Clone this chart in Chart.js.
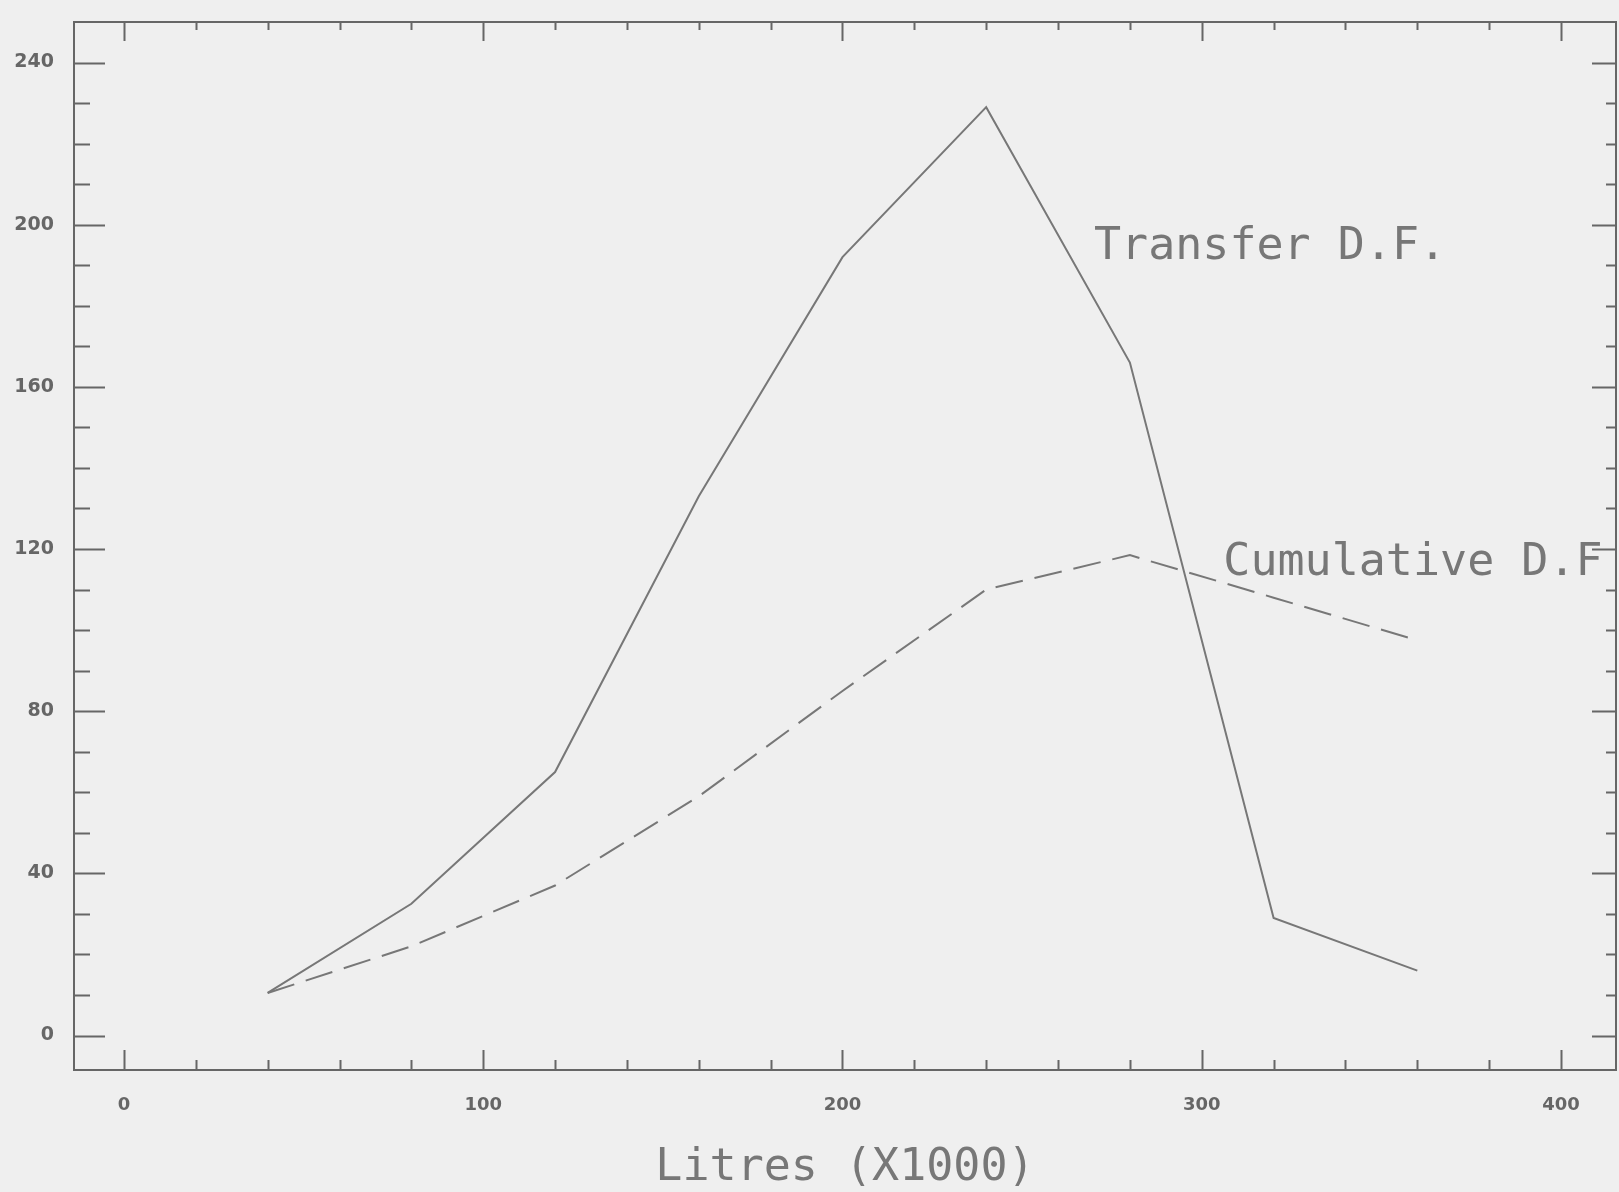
<!DOCTYPE html>
<html>
<head>
<meta charset="utf-8">
<script src="https://cdn.jsdelivr.net/npm/chart.js@4.4.1/dist/chart.umd.min.js"></script>
<style>
  html, body { margin: 0; padding: 0; background: #efefef; }
  #wrap { width: 1619px; height: 1192px; }
</style>
</head>
<body>
<div id="wrap"><canvas id="myChart" width="1619" height="1192"></canvas></div>
<script>
// data (x = litres x1000)
var litres       = [40, 80, 120, 160, 200, 240, 280, 320, 360];
var transferDF   = [10.5, 32.5, 65, 133, 192, 229, 166, 29, 16];
var cumulativeDF = [10.5, 22, 37, 59, 85, 110, 118.5, 108, 97.5];

var xTickLabels = [0, 100, 200, 300, 400];
var yTickLabels = [0, 40, 80, 120, 160, 200, 240];

// curve names written on the plot, anchored in data units
var curveNames = [
  { text: 'Transfer D.F.',  x: 270, y: 191.5 },
  { text: 'Cumulative D.F', x: 306, y: 113.5 }
];

var inkColor = '#777';
var plotFont = 'DejaVu Sans Mono';

function toPoints(xs, ys) {
  var pts = [];
  for (var i = 0; i < xs.length; i++) pts.push({ x: xs[i], y: ys[i] });
  return pts;
}

// frame with inward ticks on all four sides
var frameTicks = {
  id: 'frameTicks',
  afterDraw: function(chart) {
    var ctx = chart.ctx, a = chart.chartArea;
    var xs = chart.scales.x, ys = chart.scales.y;
    ctx.save();
    ctx.strokeStyle = '#666';
    ctx.lineWidth = 2;
    ctx.strokeRect(a.left, a.top, a.right - a.left, a.bottom - a.top);
    ctx.beginPath();
    for (var v = 0; v <= 400; v += 20) {
      var px = Math.round(xs.getPixelForValue(v)) + 0.5;
      var major = v % 100 === 0;
      ctx.moveTo(px, a.bottom); ctx.lineTo(px, a.bottom - (major ? 20 : 10));
      ctx.moveTo(px, a.top);    ctx.lineTo(px, a.top + (major ? 19 : 8));
    }
    for (var w = 0; w <= 240; w += 10) {
      var py = Math.round(ys.getPixelForValue(w)) + 0.5;
      var big = w % 40 === 0;
      ctx.moveTo(a.left, py);  ctx.lineTo(a.left + (big ? 31 : 16), py);
      ctx.moveTo(a.right, py); ctx.lineTo(a.right - (big ? 24 : 10), py);
    }
    ctx.stroke();
    ctx.restore();
  },
  afterDatasetsDraw: function(chart) {
    var ctx = chart.ctx;
    var xs = chart.scales.x, ys = chart.scales.y;
    ctx.save();
    ctx.fillStyle = inkColor;
    ctx.font = '45px "' + plotFont + '"';
    ctx.textAlign = 'left';
    ctx.textBaseline = 'alphabetic';
    curveNames.forEach(function(c) {
      ctx.fillText(c.text, xs.getPixelForValue(c.x), ys.getPixelForValue(c.y));
    });
    ctx.restore();
  }
};

var ctx = document.getElementById('myChart').getContext('2d');
var chart = new Chart(ctx, {
  type: 'line',
  data: {
    datasets: [
      {
        label: 'Transfer D.F.',
        data: toPoints(litres, transferDF),
        borderColor: inkColor,
        borderWidth: 2,
        pointRadius: 0,
        tension: 0,
        fill: false
      },
      {
        label: 'Cumulative D.F',
        data: toPoints(litres, cumulativeDF),
        borderColor: inkColor,
        borderWidth: 2,
        borderDash: [28, 12],
        pointRadius: 0,
        tension: 0,
        fill: false
      }
    ]
  },
  options: {
    responsive: false,
    animation: false,
    layout: { padding: { top: 22, right: 3, left: 0, bottom: 0 } },
    plugins: { legend: { display: false }, tooltip: { enabled: false } },
    scales: {
      x: {
        type: 'linear',
        min: -13.9,
        max: 415.3,
        afterBuildTicks: function(s) { s.ticks = xTickLabels.map(function(v) { return { value: v }; }); },
        afterFit: function(s) { s.height = 122; },
        grid: { display: false, drawTicks: false },
        border: { display: false },
        ticks: {
          autoSkip: false, maxRotation: 0, padding: 25, color: '#666',
          font: { family: 'DejaVu Sans', size: 18, weight: 'bold' }
        },
        title: {
          display: true, text: 'Litres (X1000)', color: inkColor,
          font: { family: plotFont, size: 45, lineHeight: 1 },
          padding: { top: 0, bottom: 1 }
        }
      },
      y: {
        min: -8.5,
        max: 250,
        afterBuildTicks: function(s) { s.ticks = yTickLabels.map(function(v) { return { value: v }; }); },
        afterFit: function(s) { s.width = 74; },
        // hidden tick marks only push the labels left of the frame
        grid: { display: false, drawTicks: true, tickLength: 20 },
        border: { display: false },
        ticks: {
          autoSkip: false, padding: 0, color: '#666',
          font: { family: 'DejaVu Sans', size: 19, weight: 'bold' }
        }
      }
    }
  },
  plugins: [frameTicks]
});
</script>
</body>
</html>
